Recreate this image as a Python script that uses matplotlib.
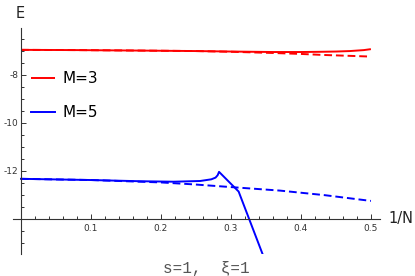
import matplotlib.pyplot as plt
from matplotlib.ticker import MultipleLocator, FixedLocator

# M=3 curves
red_x = [0.0, 0.08, 0.17, 0.25, 0.3, 0.36, 0.4, 0.43, 0.45, 0.47, 0.48, 0.49, 0.5]
red_solid = [-6.96, -6.97, -6.99, -7.01, -7.03, -7.05, -7.05, -7.04, -7.03, -7.01, -6.99, -6.97, -6.93]
red_dash = [-6.96, -6.97, -6.99, -7.01, -7.04, -7.09, -7.13, -7.17, -7.19, -7.21, -7.22, -7.23, -7.24]

# M=5 curves
blue_x = [0.0, 0.1, 0.17, 0.218, 0.256, 0.272, 0.278, 0.281, 0.283, 0.311, 0.347]
blue_solid = [-12.33, -12.38, -12.43, -12.45, -12.42, -12.35, -12.28, -12.18, -12.04, -12.86, -15.6]
blue_dash_x = [0.0, 0.1, 0.17, 0.2, 0.246, 0.303, 0.37, 0.434, 0.5]
blue_dash = [-12.33, -12.38, -12.45, -12.48, -12.56, -12.68, -12.82, -13.01, -13.25]

xticks = [0.1, 0.2, 0.3, 0.4, 0.5]
yticks = [-8, -10, -12]

fig = plt.figure(figsize=(4.15, 2.76), dpi=100)
ax = fig.add_axes([13.3 / 415, 22 / 276, 366.7 / 415, 226 / 276])
ax.set_xlim(-0.011, 0.513)
ax.set_ylim(-15.46, -6.05)

ax.plot(red_x, red_solid, color="#ff0000", lw=1.4, solid_capstyle="butt", label="M=3")
ax.plot(red_x, red_dash, color="#ff0000", lw=1.4, ls=(0, (4, 2)))
ax.plot(blue_x, blue_solid, color="#0000ff", lw=1.4, label="M=5")
ax.plot(blue_dash_x, blue_dash, color="#0000ff", lw=1.4, ls=(0, (4, 2)))

for s in ("top", "right"):
    ax.spines[s].set_visible(False)
ax.spines["left"].set_position(("data", 0))
ax.spines["bottom"].set_position(("data", -14))
for s in ("left", "bottom"):
    ax.spines[s].set_color("#333333")
    ax.spines[s].set_linewidth(0.8)

ax.xaxis.set_major_locator(FixedLocator(xticks))
ax.xaxis.set_minor_locator(MultipleLocator(0.02))
ax.yaxis.set_major_locator(FixedLocator(yticks + [-14]))
ax.yaxis.set_minor_locator(MultipleLocator(0.5))
ax.set_xticklabels([f"{t:.1f}" for t in xticks])
ax.set_yticklabels([str(t) for t in yticks] + [""])
ax.tick_params(which="both", direction="in", color="#333333", labelsize=6.5,
               labelcolor="#333333", width=0.7)
ax.tick_params(which="major", length=3.5)
ax.tick_params(which="minor", length=2)
ax.tick_params(axis="y", pad=2)
ax.tick_params(axis="x", pad=4)

ax.legend(loc="upper left", bbox_to_anchor=(31 / 415, 1 - 71 / 276),
          bbox_transform=fig.transFigure, frameon=False, fontsize=11,
          handlelength=1.6, handletextpad=0.45, labelspacing=1.25,
          borderpad=0, borderaxespad=0)

fig.text(20 / 415, 1 - 13 / 276, "E", fontsize=10.5, ha="center", va="center", color="#222222")
fig.text(401 / 415, 1 - 219 / 276, "1/N", fontsize=10.5, ha="center", va="center", color="#222222")
fig.text(206 / 415, 1 - 268 / 276, "s=1,  \u03be=1", fontsize=11.5,
         family=["Liberation Mono", "DejaVu Sans Mono"], ha="center", va="center",
         color="#555555")

fig.savefig("out.png", dpi=100)
